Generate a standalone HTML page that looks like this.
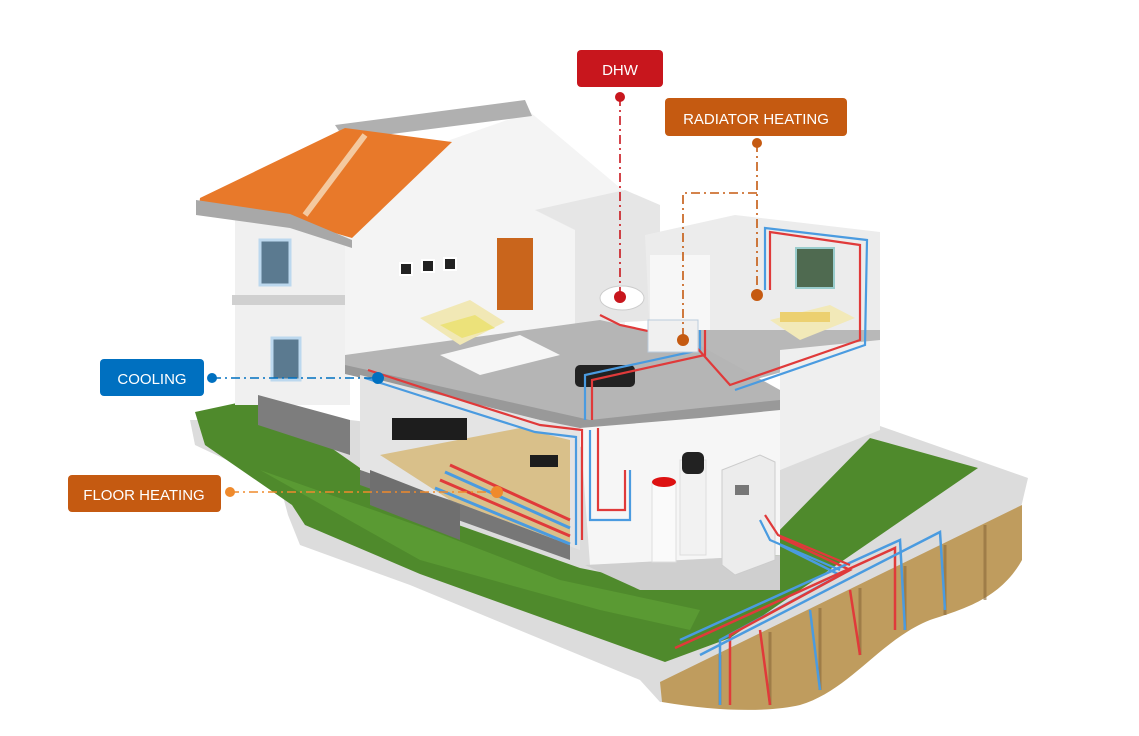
<!DOCTYPE html>
<html><head><meta charset="utf-8"><style>
html,body{margin:0;padding:0;background:#fff;}
svg{display:block}
text{font-family:"Liberation Sans",sans-serif}
</style></head><body>
<svg width="1139" height="736" viewBox="0 0 1139 736" xmlns="http://www.w3.org/2000/svg">
<rect width="1139" height="736" fill="#fff"/>
<!-- concrete base -->
<polygon points="190,420 195,445 280,485 288,515 300,545 410,585 640,680 660,702 720,702 1005,575 1028,478 880,426 780,470 350,420" fill="#dcdcdc"/>
<!-- grass -->
<polygon points="195,412 260,398 360,468 430,515 580,568 680,588 770,540 870,438 978,468 730,638 665,662 420,574 305,525 292,505 205,445" fill="#4f8a2c"/>
<polygon points="260,470 420,560 600,610 690,630 700,610 560,580 430,530" fill="#5a9a33"/>
<!-- earth cutaway -->
<path d="M660,682 L1022,505 L1022,560 C1000,600 960,610 930,620 C880,640 850,690 800,705 C770,712 720,712 662,702 Z" fill="#bf9c5e"/>
<g stroke="#8a6a3a" stroke-width="3" opacity="0.6">
<line x1="720" y1="655" x2="720" y2="705"/><line x1="770" y1="632" x2="770" y2="705"/>
<line x1="820" y1="608" x2="820" y2="690"/><line x1="860" y1="588" x2="860" y2="655"/>
<line x1="905" y1="566" x2="905" y2="630"/><line x1="945" y1="545" x2="945" y2="615"/>
<line x1="985" y1="525" x2="985" y2="600"/>
</g>
<!-- ground loop pipes -->
<g fill="none" stroke-width="2.5">
<polyline points="770,540 840,575 720,640 720,705" stroke="#4a9be0"/>
<polyline points="775,535 850,570 730,635 730,705" stroke="#e03a3a"/>
<polyline points="680,640 900,540 905,630" stroke="#4a9be0"/>
<polyline points="675,648 895,548 895,630" stroke="#e03a3a"/>
<polyline points="700,655 940,532 945,610" stroke="#4a9be0"/>
<polyline points="760,630 770,705" stroke="#e03a3a"/>
<polyline points="810,610 820,690" stroke="#4a9be0"/>
<polyline points="850,590 860,655" stroke="#e03a3a"/>
</g>
<!-- left block -->
<rect x="235" y="215" width="115" height="190" fill="#f0f0f0"/>
<polygon points="258,395 350,420 350,455 258,425" fill="#7d7d7d"/>
<rect x="232" y="295" width="120" height="10" fill="#d0d0d0"/>
<rect x="260" y="240" width="30" height="45" fill="#5b7a90" stroke="#bcd8ee" stroke-width="3"/>
<rect x="272" y="338" width="28" height="42" fill="#5b7a90" stroke="#bcd8ee" stroke-width="3"/>
<!-- main gable wall -->
<polygon points="345,240 450,140 530,112 625,192 625,325 345,360" fill="#f4f4f4"/>
<polygon points="335,125 525,100 532,116 345,140" fill="#b0b0b0"/>
<!-- roof -->
<polygon points="200,198 345,128 452,142 352,238 290,220 198,215" fill="#e8792a"/>
<polygon points="196,200 290,214 352,240 352,248 290,228 196,215" fill="#a8a8a8"/>
<line x1="305" y1="215" x2="365" y2="135" stroke="#f4c9a0" stroke-width="6"/>
<!-- door & windows -->
<rect x="497" y="238" width="36" height="72" fill="#c9651c"/>
<rect x="400" y="263" width="12" height="12" fill="#222" stroke="#fff" stroke-width="2"/>
<rect x="422" y="260" width="12" height="12" fill="#222" stroke="#fff" stroke-width="2"/>
<rect x="444" y="258" width="12" height="12" fill="#222" stroke="#fff" stroke-width="2"/>
<!-- bathroom -->
<polygon points="535,210 625,190 660,205 660,320 575,325 575,230" fill="#e6e6e6"/>
<ellipse cx="622" cy="298" rx="22" ry="12" fill="#fff" stroke="#ccc"/>
<!-- right room -->
<polygon points="645,235 735,215 880,232 880,335 650,335" fill="#ececec"/>
<rect x="650" y="255" width="60" height="95" fill="#f7f7f7"/>
<polygon points="650,330 880,330 880,345 735,385 650,350" fill="#b8b8b8"/>
<rect x="796" y="248" width="38" height="40" fill="#4f6a50" stroke="#9cc" stroke-width="2"/>
<polygon points="770,320 830,305 855,318 800,340" fill="#f2e9b8"/>
<rect x="780" y="312" width="50" height="10" fill="#ecd070"/>
<!-- upper floor slab -->
<polygon points="345,355 600,320 690,340 780,390 780,410 700,418 590,430 345,372" fill="#b5b5b5"/>
<polygon points="345,365 590,420 700,408 780,400 780,412 700,420 590,432 345,374" fill="#999"/>
<polygon points="440,355 520,335 560,355 480,375" fill="#f6f6f6"/>
<polygon points="420,318 470,300 505,322 460,345" fill="#f1e8b5"/>
<polygon points="440,325 475,315 495,328 462,338" fill="#ece27a"/>
<rect x="575" y="365" width="60" height="22" rx="5" fill="#222"/>
<!-- lower living room -->
<polygon points="360,375 540,420 580,428 580,550 360,470" fill="#e4e4e4"/>
<polygon points="380,455 520,428 570,440 570,545 450,500" fill="#d9c08a"/>
<rect x="392" y="418" width="75" height="22" fill="#1d1d1d"/>
<rect x="530" y="455" width="28" height="12" fill="#1d1d1d"/>
<polygon points="360,470 450,500 570,545 570,560 360,485" fill="#777"/>
<polygon points="370,470 460,505 460,540 370,505" fill="#6f6f6f"/>
<!-- mechanical room -->
<polygon points="580,428 700,418 780,410 780,555 590,565" fill="#f6f6f6"/>
<polygon points="585,565 780,555 780,590 640,590" fill="#cfcfcf"/>
<rect x="652" y="482" width="24" height="80" fill="#fafafa" stroke="#ddd"/>
<ellipse cx="664" cy="482" rx="12" ry="5" fill="#d11"/>
<rect x="680" y="460" width="26" height="95" fill="#f2f2f2" stroke="#ddd"/>
<rect x="682" y="452" width="22" height="22" rx="6" fill="#222"/>
<polygon points="722,470 760,455 775,462 775,560 735,575 722,565" fill="#ececec" stroke="#ccc"/>
<rect x="735" y="485" width="14" height="10" fill="#777"/>
<!-- right block wall -->
<polygon points="780,350 880,340 880,430 780,470" fill="#efefef"/>
<!-- house pipes -->
<g fill="none" stroke-width="2.2">
<polyline points="368,370 445,395 540,425 582,430 582,540" stroke="#e03a3a"/>
<polyline points="365,378 440,402 535,432 576,437 576,545" stroke="#4a9be0"/>
<polyline points="590,430 590,520 630,520 630,470" stroke="#4a9be0"/>
<polyline points="598,428 598,510 625,510 625,470" stroke="#e03a3a"/>
<polyline points="585,420 585,375 700,350 700,330" stroke="#4a9be0"/>
<polyline points="592,420 592,380 705,355 705,330" stroke="#e03a3a"/>
<polyline points="600,315 620,325 690,340 730,385 860,340 860,245 770,232 770,290" stroke="#e03a3a"/>
<polyline points="735,390 865,345 867,240 765,228 765,290" stroke="#4a9be0"/>
<polyline points="450,465 570,520" stroke="#e03a3a" stroke-width="3"/>
<polyline points="445,472 570,528" stroke="#4a9be0" stroke-width="3"/>
<polyline points="440,480 570,536" stroke="#e03a3a" stroke-width="3"/>
<polyline points="435,488 570,544" stroke="#4a9be0" stroke-width="3"/>
<polyline points="760,520 770,540 840,570" stroke="#4a9be0"/>
<polyline points="765,515 778,535 850,565" stroke="#e03a3a"/>
</g>
<rect x="648" y="320" width="50" height="32" fill="#f0f0f0" stroke="#bcd" />
<!-- callouts -->
<g stroke-width="1.6" fill="none" stroke-dasharray="9,4,2,4">
<line x1="620" y1="97" x2="620" y2="297" stroke="#c8161d"/>
<polyline points="757,143 757,295" stroke="#c55a11"/>
<polyline points="757,193 683,193 683,340" stroke="#c55a11"/>
<line x1="212" y1="378" x2="378" y2="378" stroke="#0070c0"/>
<line x1="230" y1="492" x2="497" y2="492" stroke="#ef8a2c"/>
</g>
<circle cx="620" cy="97" r="5" fill="#c8161d"/><circle cx="620" cy="297" r="6" fill="#c8161d"/>
<circle cx="757" cy="143" r="5" fill="#c55a11"/><circle cx="757" cy="295" r="6" fill="#c55a11"/>
<circle cx="683" cy="340" r="6" fill="#c55a11"/>
<circle cx="212" cy="378" r="5" fill="#0070c0"/><circle cx="378" cy="378" r="6" fill="#0070c0"/>
<circle cx="230" cy="492" r="5" fill="#ef8a2c"/><circle cx="497" cy="492" r="6" fill="#ef8a2c"/>
<rect x="577" y="50" width="86" height="37" rx="4" fill="#c8161d"/>
<text x="620" y="75" fill="#fff" font-size="15" text-anchor="middle">DHW</text>
<rect x="665" y="98" width="182" height="38" rx="4" fill="#c55a11"/>
<text x="756" y="124" fill="#fff" font-size="15" text-anchor="middle">RADIATOR HEATING</text>
<rect x="100" y="359" width="104" height="37" rx="4" fill="#0070c0"/>
<text x="152" y="384" fill="#fff" font-size="15" text-anchor="middle">COOLING</text>
<rect x="68" y="475" width="153" height="37" rx="4" fill="#c55a11"/>
<text x="144" y="500" fill="#fff" font-size="15" text-anchor="middle">FLOOR HEATING</text>
</svg>
</body></html>
